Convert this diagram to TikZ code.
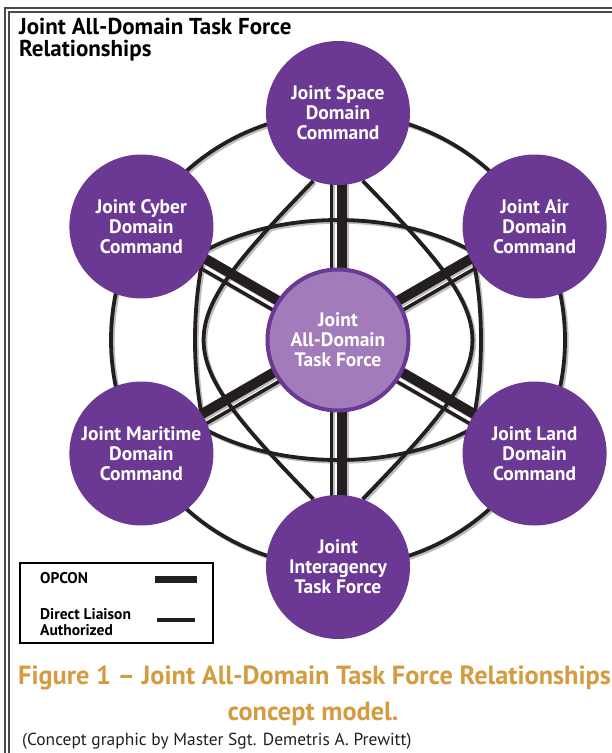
\documentclass[tikz,border=0pt]{standalone}
\usepackage{fontspec}
\setmainfont{PT Sans}
\usetikzlibrary{calc}
\pgfdeclarelayer{background}
\pgfsetlayers{background,main}

\definecolor{jpurple}{HTML}{6B3994}
\definecolor{jlilac}{HTML}{A27CBA}
\definecolor{jink}{HTML}{231F20}
\definecolor{jshade}{HTML}{BDBBBB}
\definecolor{jgold}{HTML}{D49B3F}
\definecolor{jframe}{HTML}{4A4A4A}

\tikzset{
  cmd/.style={circle, fill=jpurple, minimum size=144, inner sep=0pt,
    text=white, align=center, font=\fontsize{19.5}{20}\selectfont\bfseries},
  hub/.style={circle, fill=jlilac, draw=jpurple, line width=4, minimum size=141,
    inner sep=0pt, text=white, align=center, font=\fontsize{19.5}{20}\selectfont\bfseries},
  ring/.style={line width=3.8},
  opcon/.style={line width=10},
  liaison/.style={line width=3.5},
  legendtext/.style={align=left, inner sep=0pt, font=\fontsize{15.5}{15.5}\selectfont\bfseries},
  caption/.style={text=jgold, inner sep=0pt, font=\fontsize{26.3}{30}\selectfont\bfseries},
}

% all the lines behind the circles, in one colour
\newcommand{\linework}[1]{%
  % outer ring through the six commands
  \draw[ring, draw=#1] (hub.center) circle[radius=227];
  % lens from space down to interagency
  \draw[ring, draw=#1] (space.250) .. controls (-171,8) and (-171,-8) .. (inter.110);
  \draw[ring, draw=#1] (space.290) .. controls (171,8) and (171,-8) .. (inter.70);
  % band through the four side commands
  \begin{scope}
    \clip (0,0) ellipse [x radius=143, y radius=249];
    \draw[ring, draw=#1] (0,0) ellipse [x radius=199, y radius=120];
  \end{scope}
  \begin{scope}
    \clip (0,0) ellipse [x radius=199, y radius=120];
    \draw[ring, draw=#1] (0,0) ellipse [x radius=143, y radius=249];
  \end{scope}
  % spokes: opcon bar and liaison line side by side
  \foreach \n/\t in {space/0, cyber/60, air/120, maritime/120, land/60, inter/0} {
    \draw[opcon, draw=#1, transform canvas={shift={(\t:4)}}] (hub.center) -- (\n.center);
    \draw[liaison, draw=#1, transform canvas={shift={(\t+180:6.5)}}] (hub.center) -- (\n.center);
  }
}

\begin{document}
\begin{tikzpicture}[x=1pt, y=1pt]
  \useasboundingbox (-338,-413) rectangle (273,340);

  % page frame
  \draw[jframe, line width=1.6] (-333,-420) -- (-333,332) -- (290,332);
  \draw[jframe, line width=1.6] (-329,-420) -- (-329,328) -- (290,328);

  \node[anchor=north west, align=left, inner sep=0pt,
    font=\fontsize{23}{22}\selectfont\bfseries] (title) at (-319,322)
    {Joint All-Domain Task Force\\Relationships};

  % commands
  \node[hub] (hub) at (0,0) {Joint\\All-Domain\\Task Force};
  \node[cmd] (space) at (90:227) {Joint Space\\Domain\\Command};
  \node[cmd] (cyber) at (150:227) {Joint Cyber\\Domain\\Command};
  \node[cmd] (air) at (30:227) {Joint Air\\Domain\\Command};
  \node[cmd] (maritime) at (210:227) {Joint Maritime\\Domain\\Command};
  \node[cmd] (land) at (330:227) {Joint Land\\Domain\\Command};
  \node[cmd] (inter) at (270:227) {Joint\\Interagency\\Task Force};

  \begin{pgfonlayer}{background}
    \begin{scope}[transform canvas={shift={(1.8,-1.8)}}]
      \linework{jshade}
    \end{scope}
    \linework{jink}
  \end{pgfonlayer}

  % legend
  \draw[black, line width=1.8] (-318,-223) rectangle (-125,-303);
  \node[legendtext, anchor=base west] (opconlbl) at (-298,-243) {OPCON};
  \draw[jink, line width=7] (-183,-239) -- (-141,-239);
  \node[legendtext, anchor=west] (dlalbl) at (-298,-282) {Direct Liaison\\Authorized};
  \draw[jink, line width=3.5] (-181,-280) -- (-143,-280);

  % caption
  \node[caption, anchor=base west] (figcap) at (-320,-344)
    {Figure 1 – Joint All-Domain Task Force Relationships};
  \node[caption, anchor=base] (figcapb) at (-25,-380) {concept model.};
  \node[anchor=base west, inner sep=0pt, text=jink,
    font=\fontsize{17.4}{20}\selectfont] (credit) at (-316,-405)
    {(Concept graphic by Master Sgt. Demetris A. Prewitt)};
\end{tikzpicture}
\end{document}
